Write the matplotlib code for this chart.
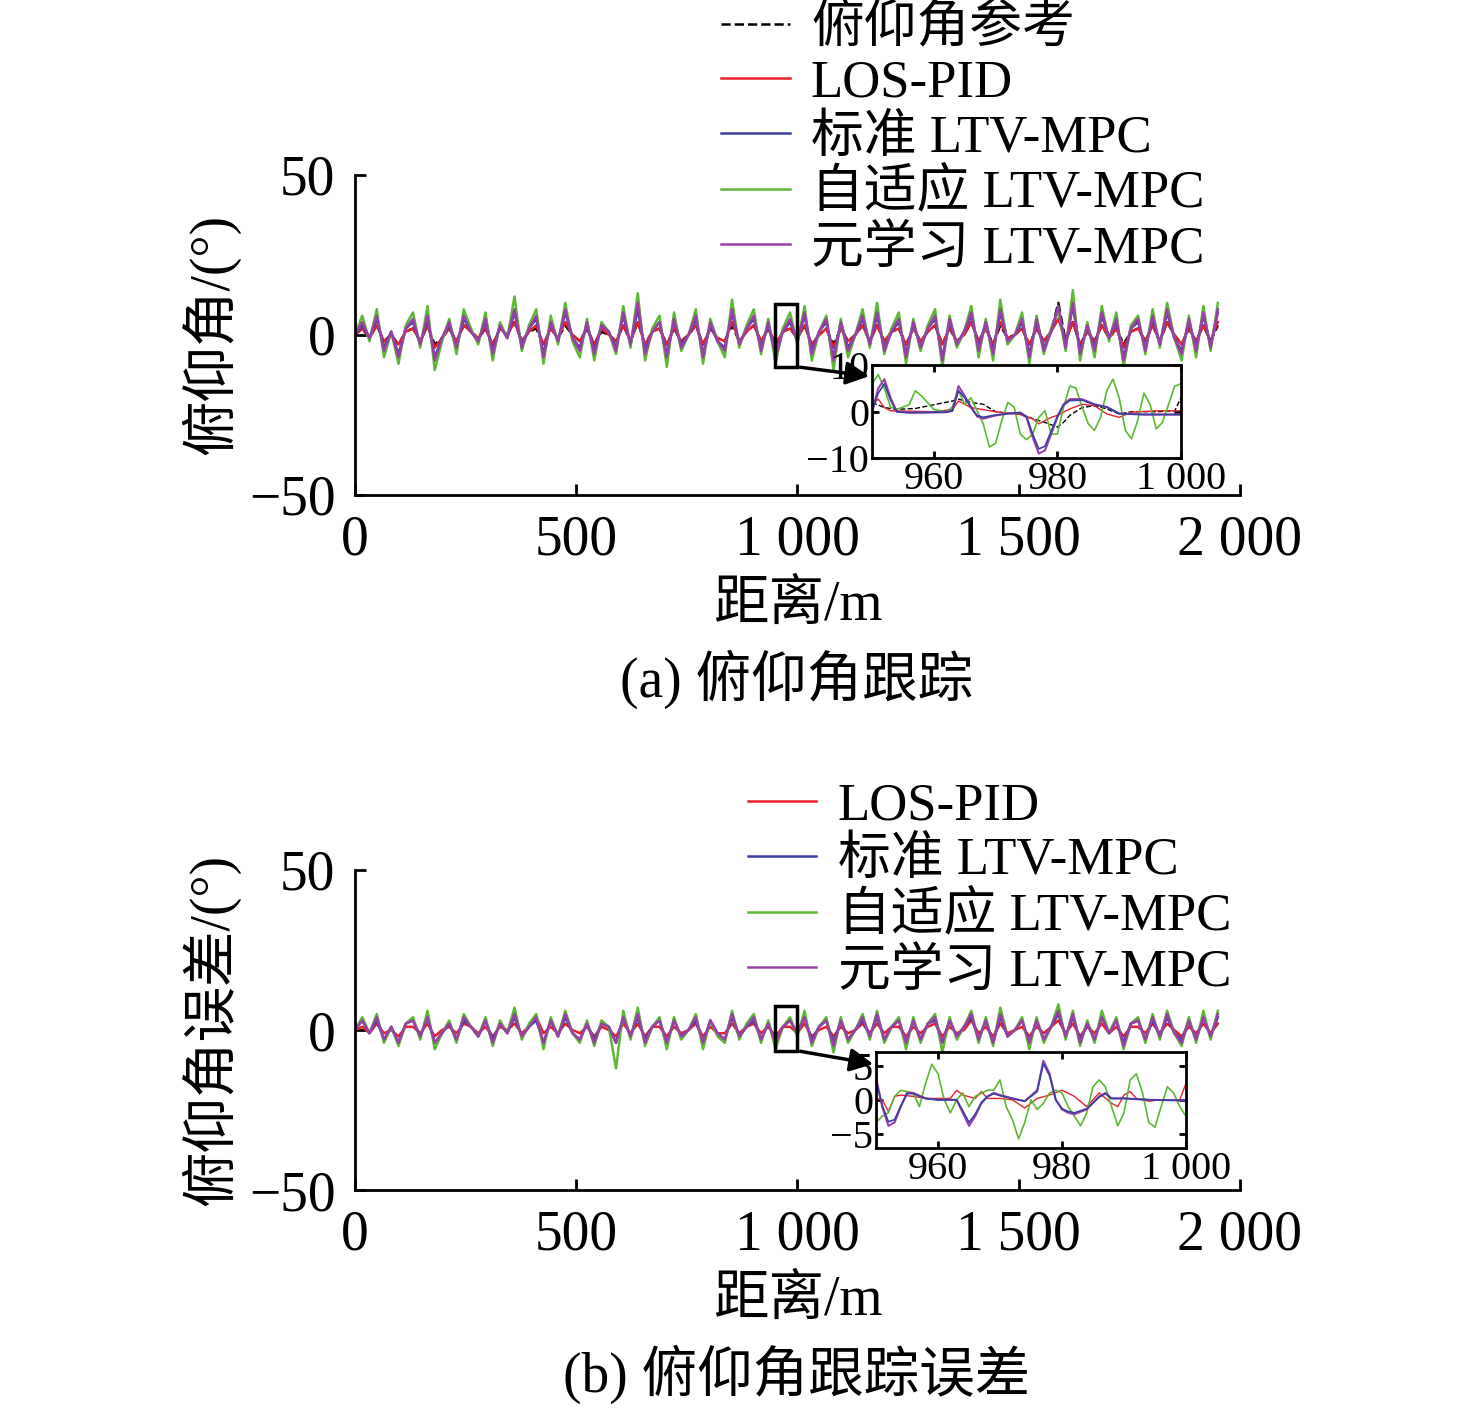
import numpy as np
import matplotlib.pyplot as plt
from matplotlib.patches import Rectangle

plt.rcParams['font.family'] = ['Liberation Serif', 'Noto Sans CJK SC']
plt.rcParams['axes.unicode_minus'] = True

# ---------- main panel data (sampled every ~16.4 m, 0..1950 m) ----------
green_a = [0, 6, -2, 8, -7, 1, -9, 3, 7, -4, 9, -11, -2, 5, -6, 8, 2, -3, 7, -8,
           4, -1, 12, -5, 3, 8, -9, 6, -3, 10, -2, -7, 5, -8, 4, 1, -6, 9, -4, 13,
           -8, 2, 6, -10, 7, -5, 0, 8, -9, 5, -2, -7, 11, -4, 3, 8, -6, 5, -9, 2,
           7, -3, 9, -8, 1, 6, -11, 5, -7, 0, 8, -4, 10, -6, 2, 7, -9, 5, -5, 3,
           8, -10, 6, -4, 1, 9, -7, 5, -8, 11, -3, 0, 7, -9, 6, -6, 2, 8, -5, 14,
           -8, 4, -7, 9, -2, 7, -10, 3, 6, -6, 8, -4, 10, -1, -8, 6, -7, 9, -5, 10]
purple_a = [0, 4, -1, 6, -5, 1, -7, 2, 5, -3, 6, -8, -1, 4, -4, 6, 1, -2, 5, -6,
            3, -1, 8, -4, 2, 6, -7, 4, -2, 8, -1, -5, 4, -6, 3, 1, -5, 7, -3, 10,
            -6, 1, 4, -7, 5, -4, 0, 6, -7, 4, -2, -5, 8, -3, 2, 6, -5, 4, -7, 1,
            5, -2, 7, -6, 1, 5, -8, 4, -5, 0, 6, -3, 7, -5, 1, 5, -7, 4, -4, 2,
            6, -8, 5, -3, 1, 7, -5, 4, -6, 8, -2, 0, 5, -7, 5, -5, 1, 9, -4, 10,
            -6, 3, -5, 7, -1, 5, -8, 2, 5, -5, 6, -3, 8, -1, -6, 5, -5, 7, -4, 8]
blue_a = [0, 3, -1, 5, -4, 1, -6, 2, 4, -3, 5, -7, -1, 3, -4, 5, 1, -2, 4, -5,
          3, -1, 7, -3, 2, 5, -6, 4, -2, 7, -1, -4, 3, -5, 3, 1, -4, 6, -3, 8,
          -5, 1, 4, -6, 4, -3, 0, 5, -6, 3, -2, -4, 7, -3, 2, 5, -4, 3, -6, 1,
          4, -2, 6, -5, 1, 4, -7, 4, -4, 0, 5, -3, 6, -4, 1, 4, -6, 4, -4, 2,
          5, -7, 4, -3, 1, 6, -4, 4, -5, 7, -2, 0, 4, -6, 4, -4, 1, 8, -3, 9,
          -5, 3, -4, 6, -1, 4, -7, 2, 4, -4, 5, -3, 7, -1, -5, 4, -4, 6, -3, 7]
red_a = [0, 2, -1, 3, -2, 0, -3, 1, 2, -2, 3, -4, -1, 2, -2, 3, 1, -1, 2, -3,
         2, 0, 4, -2, 1, 3, -3, 2, -1, 4, 0, -2, 2, -3, 2, 0, -2, 3, -2, 4,
         -3, 1, 2, -3, 2, -2, 0, 3, -3, 2, -1, -2, 4, -2, 1, 3, -2, 2, -3, 1,
         2, -1, 3, -3, 0, 2, -4, 2, -2, 0, 3, -2, 3, -2, 1, 2, -3, 2, -2, 1,
         3, -3, 2, -2, 0, 4, -2, 2, -3, 4, -1, 0, 2, -3, 2, -2, 1, 5, -2, 4,
         -3, 1, -2, 3, -1, 2, -4, 1, 2, -2, 3, -2, 4, 0, -3, 2, -2, 3, -2, 4]
ref_a = [0, 2, -1, 3, -2, 0, -3, 1, 2, -2, 3, -3, -1, 2, -2, 3, 1, -1, 2, -3,
         2, 0, 4, -2, 1, 2, -3, 2, -1, 3, 0, -2, 2, -3, 1, 0, -2, 3, -2, 4,
         -3, 1, 2, -3, 2, -2, 0, 3, -3, 2, -1, -2, 3, -2, 1, 3, -2, 2, -3, 1,
         2, -1, 3, -3, 0, 2, -3, 2, -2, 0, 3, -2, 3, -2, 1, 2, -3, 2, -2, 1,
         3, -3, 2, -2, 0, 4, -2, 2, -3, 3, -1, 0, 2, -3, 2, -2, 1, 10, -2, 4,
         -3, 1, -2, 3, -1, 2, -3, 1, 2, -2, 3, -2, 4, 0, -3, 2, -2, 3, -2, 3]

green_b = [0, 4, -1, 5, -4, 1, -5, 2, 4, -3, 6, -6, -1, 3, -4, 5, 1, -2, 4, -5,
           3, -1, 7, -3, 2, 5, -6, 4, -2, 6, -1, -4, 3, -5, 3, 1, -12, 6, -3, 7,
           -5, 1, 4, -6, 4, -3, 0, 5, -6, 3, -2, -4, 6, -3, 2, 5, -4, 3, -6, 1,
           4, -2, 6, -5, 1, 4, -7, 4, -4, 0, 5, -3, 6, -4, 1, 4, -6, 4, -4, 2,
           5, -7, 4, -3, 1, 6, -4, 4, -5, 7, -2, 0, 4, -6, 4, -4, 1, 8, -3, 6,
           -5, 3, -4, 6, -1, 4, -6, 2, 4, -4, 5, -3, 6, -1, -5, 4, -4, 6, -3, 6]
purple_b = [0, 3, -1, 4, -3, 1, -4, 2, 3, -2, 4, -4, -1, 2, -3, 4, 1, -2, 3, -4,
            2, -1, 5, -2, 1, 4, -4, 3, -2, 5, -1, -3, 2, -4, 2, 1, -4, 4, -2, 5,
            -4, 1, 3, -4, 3, -2, 0, 4, -4, 3, -1, -3, 5, -2, 1, 4, -3, 2, -4, 1,
            3, -1, 4, -4, 1, 3, -5, 3, -3, 0, 4, -2, 5, -3, 1, 3, -4, 3, -3, 2,
            4, -4, 3, -2, 1, 5, -3, 3, -4, 5, -2, 0, 3, -4, 3, -3, 1, 6, -2, 5,
            -4, 2, -3, 4, -1, 3, -5, 2, 3, -3, 4, -2, 5, -1, -4, 3, -3, 4, -2, 5]
blue_b = [0, 3, -1, 3, -3, 1, -4, 2, 3, -2, 4, -4, -1, 2, -3, 3, 1, -2, 3, -3,
          2, -1, 4, -2, 1, 3, -4, 3, -2, 4, -1, -3, 2, -3, 2, 1, -4, 4, -2, 4,
          -3, 1, 3, -4, 3, -2, 0, 3, -4, 3, -1, -3, 4, -2, 1, 3, -3, 2, -4, 1,
          3, -1, 4, -3, 1, 3, -4, 3, -3, 0, 3, -2, 4, -3, 1, 3, -4, 3, -3, 2,
          3, -4, 3, -2, 1, 4, -3, 3, -4, 4, -2, 0, 3, -4, 3, -3, 1, 5, -2, 4,
          -3, 2, -3, 4, -1, 3, -4, 2, 3, -3, 3, -2, 4, -1, -3, 3, -3, 4, -2, 4]
red_b = [0, 1, -1, 2, -1, 0, -2, 1, 1, -1, 2, -2, 0, 1, -1, 2, 1, -1, 1, -2,
         1, 0, 2, -1, 1, 4, -1, 1, -1, 2, 0, -1, 1, -2, 1, 0, -2, 2, -1, 2,
         -2, 1, 1, -2, 1, -1, 0, 2, -2, 1, -1, -1, 2, -1, 1, 2, -1, 1, -2, 1,
         1, -1, 2, -2, 0, 1, -2, 1, -1, 0, 2, -1, 2, -1, 1, 1, -2, 1, -1, 1,
         2, -2, 1, -1, 0, 3, -1, 1, -2, 2, -1, 0, 1, -2, 1, -1, 1, 3, -1, 2,
         -2, 1, -1, 2, -1, 1, -2, 1, 1, -1, 2, -1, 2, 0, -2, 1, -1, 2, -1, 2]
x_main = np.linspace(0, 1950, len(green_a))

# ---------- inset data (950..1000 m) ----------
ia_green_x = [950, 951, 952, 953, 954, 956, 957, 958, 960, 962, 963, 964, 965, 966, 968, 969, 970, 971, 972, 973, 974, 975, 976, 977, 978, 979, 980, 981, 982, 983, 984, 985, 986, 987, 988, 989, 990, 991, 992, 993, 994, 995, 996, 997, 998, 999, 1000]
ia_green_y = [6, 8, 5, 1, 0.5, 1.5, 4.5, 3.4, 0.5, 0, 1, 4.5, 1.6, 3, -2.6, -7.6, -6.8, -1.9, 2, 1, -4.8, -6, -4.8, -1.2, 0.2, -4.8, -4.8, 1, 5.5, 5.1, 1, -2.6, -4, -1.2, 4.5, 7, 3, -4, -5.8, -1.9, 4, 1.6, -3.7, -2.3, 1.6, 5.5, 6]
ia_purple_x = [950, 951, 952, 953, 954, 956, 962, 963, 964, 965, 966, 967, 968, 970, 972, 974, 975, 976, 977, 978, 979, 980, 981, 982, 984, 986, 988, 990, 994, 1000]
ia_purple_y = [0, 5, 7, 3, 0, -0.2, -0.1, 0.2, 5.5, 3.4, 1, -1, -1.5, -0.8, -0.4, -0.2, -1.2, -5.5, -9, -8.3, -4.8, -1.2, 1.6, 2.7, 2.7, 1.6, 1, -0.4, -0.6, -0.6]
ia_blue_y = [0, 4, 6, 2.5, 0, -0.2, -0.1, 0.2, 4.5, 3, 1, -0.8, -1.2, -0.7, -0.4, -0.2, -1, -4.8, -8, -7.4, -4.2, -1, 1.4, 2.4, 2.5, 1.5, 1, -0.4, -0.6, -0.6]
ia_red_x = [950, 951, 952, 953, 960, 963, 964, 966, 970, 974, 976, 977, 978, 979, 980, 982, 984, 986, 988, 990, 992, 996, 1000]
ia_red_y = [1.6, 2.7, 0.9, 0.2, 0, 0.5, 2.3, 0.9, 0, -0.6, -1.5, -2.6, -1.9, -1.2, -0.8, 0.6, 1.6, 1.3, -0.5, -1.2, -0.1, 0.2, 0.2]
ia_ref_x = [950, 952, 954, 957, 963, 964, 966, 968, 970, 974, 976, 978, 980, 981, 982, 984, 986, 988, 990, 992, 996, 999, 1000]
ia_ref_y = [2, 0.9, 0.5, 0.7, 2.3, 2.7, 2, 1.6, 0, -0.6, -1.5, -2.3, -3.3, -2.3, -0.8, 0.9, 1.3, 0.6, -0.5, 0, 0, 0.2, 3]

ib_green_x = [950, 951, 952, 953, 954, 956, 957, 958, 959, 960, 961, 962, 963, 964, 965, 966, 968, 969, 970, 971, 972, 973, 974, 975, 976, 977, 978, 979, 980, 981, 982, 983, 984, 985, 986, 987, 988, 989, 990, 991, 992, 993, 994, 995, 996, 997, 998, 999, 1000]
ib_green_y = [-3.3, -2.4, -1.9, 0.5, 1.4, 1, -1, 2.4, 5.2, 3.8, 0, -1.9, 0, 1, -1, 0.5, 1.4, 1.4, 2.9, -1, -2.9, -5.7, -3.3, 0, -1.4, -0.5, 1, 1.4, 1, -1, -2.4, -3.8, -1.9, 1.9, 2.9, 1.9, -1, -3.8, -1.9, 2.9, 3.8, 1, -3.3, -4, -1, 1.9, 1, -1, -2.4]
ib_purple_x = [950, 951, 952, 953, 954, 955, 956, 958, 960, 963, 964, 965, 966, 967, 968, 969, 970, 972, 974, 976, 977, 978, 979, 980, 981, 982, 984, 986, 987, 988, 990, 994, 1000]
ib_purple_y = [3.3, -1, -3.8, -3.3, -1, 1, 1, 0.2, 0, 0, -1.9, -3.8, -2.4, -0.5, 0.5, 1, 0.7, 0.2, -0.2, 1.4, 5.7, 3.8, 0, -1.4, -1.9, -2.1, -1.4, 0.5, 1, 0.2, 0.2, 0, -0.1]
ib_blue_y = [2.8, -0.8, -3.2, -2.9, -0.9, 0.9, 0.9, 0.2, 0, 0, -1.6, -3.3, -2.1, -0.4, 0.5, 0.9, 0.6, 0.2, -0.2, 1.2, 5.3, 3.5, 0, -1.3, -1.7, -1.9, -1.3, 0.4, 0.9, 0.2, 0.2, 0, -0.1]
ib_red_x = [950, 951, 952, 953, 954, 956, 958, 962, 963, 964, 966, 967, 968, 970, 972, 974, 976, 978, 980, 982, 984, 985, 986, 988, 989, 990, 991, 992, 994, 996, 999, 1000]
ib_red_y = [0.2, 0, -1.7, 0.5, 0.7, 0.5, 0.2, 0.2, 1.4, 0.7, 0.2, 1.2, 0.2, 0.2, 0, -1.2, 0.2, 0.7, 1.4, 0.5, -1, 0, 1, -0.5, -1, 0.7, 1.2, 0.2, -0.2, 0, 0, 2.4]

labels_a = ['俯仰角参考', 'LOS-PID', '标准 LTV-MPC', '自适应 LTV-MPC', '元学习 LTV-MPC']
C_REF, C_RED, C_BLUE, C_GREEN, C_PURPLE = 'black', '#e8202a', '#3b3fa0', '#5cb832', '#9a3fa8'
xticks_main = [0, 500, 1000, 1500, 2000]
xticklabels_main = ['0', '500', '1 000', '1 500', '2 000']
FS = 40

fig = plt.figure(figsize=(14.76, 14.1), dpi=100)

def style_main(ax, ylabel):
    ax.set_xlim(0, 2000)
    ax.set_ylim(-50, 50)
    ax.set_xticks(xticks_main)
    ax.set_xticklabels(xticklabels_main)
    ax.set_yticks([-50, 0, 50])
    ax.set_yticklabels(['\u221250', '0', '50'])
    for s in ['top', 'right']:
        ax.spines[s].set_visible(False)
    for s in ['left', 'bottom']:
        ax.spines[s].set_linewidth(2)
    ax.tick_params(direction='in', length=8, width=2, labelsize=FS, pad=14)
    ax.set_xlabel('距离/m', fontsize=FS, labelpad=10)
    ax.set_ylabel(ylabel, fontsize=FS, labelpad=6)

def style_inset(ax, ylim, yticks, yticklabels):
    ax.set_xlim(950, 1000)
    ax.set_ylim(*ylim)
    ax.set_xticks([960, 980, 1000])
    ax.set_xticklabels(['960', '980', '1 000'])
    ax.set_yticks(yticks)
    ax.set_yticklabels(yticklabels)
    for s in ax.spines.values():
        s.set_linewidth(2)
    ax.tick_params(direction='in', length=5, width=2, labelsize=29, pad=2,
                   top=True, right=True)

legkw = dict(loc='upper left', frameon=False, fontsize=38, handlelength=1.3,
             handletextpad=0.4, labelspacing=0.12, borderaxespad=0)

# ---------- panel a ----------
ax1 = fig.add_axes([0.2405, 0.649, 0.5996, 0.227])
ax1.plot(x_main, ref_a, '--', color=C_REF, lw=1.8, label=labels_a[0])
ax1.plot(x_main, red_a, color=C_RED, lw=1.8, label=labels_a[1])
ax1.plot(x_main, blue_a, color=C_BLUE, lw=1.8, label=labels_a[2])
ax1.plot(x_main, green_a, color=C_GREEN, lw=1.8, label=labels_a[3])
ax1.plot(x_main, purple_a, color=C_PURPLE, lw=1.8, label=labels_a[4])
style_main(ax1, '俯仰角/(°)')
ax1.add_patch(Rectangle((950, -10), 50, 19.5, fill=False, lw=2.5, ec='black', zorder=5))
ax1.legend(bbox_to_anchor=(0.39, 1.6), **legkw)
fig.text(0.54, 0.518, '(a) 俯仰角跟踪', fontsize=FS, ha='center', va='center')

in1 = fig.add_axes([0.5908, 0.675, 0.2093, 0.066])
in1.plot(ia_ref_x, ia_ref_y, '--', color=C_REF, lw=1)
in1.plot(ia_red_x, ia_red_y, color=C_RED, lw=1)
in1.plot(ia_green_x, ia_green_y, color=C_GREEN, lw=1.2)
in1.plot(ia_purple_x, ia_purple_y, color=C_PURPLE, lw=1.5)
in1.plot(ia_purple_x, ia_blue_y, color=C_BLUE, lw=1.2)
style_inset(in1, (-10, 10), [-10, 0, 10], ['\u221210', '0', '10'])
ax1.annotate('', xy=(0.5908, 0.733), xycoords='figure fraction',
             xytext=(1000, -10), textcoords='data',
             arrowprops=dict(arrowstyle='-|>', color='black', lw=2.5, mutation_scale=35))

# ---------- panel b ----------
ax2 = fig.add_axes([0.2405, 0.156, 0.5996, 0.227])
ax2.plot(x_main, red_b, color=C_RED, lw=1.8, label=labels_a[1])
ax2.plot(x_main, blue_b, color=C_BLUE, lw=1.8, label=labels_a[2])
ax2.plot(x_main, green_b, color=C_GREEN, lw=1.8, label=labels_a[3])
ax2.plot(x_main, purple_b, color=C_PURPLE, lw=1.8, label=labels_a[4])
style_main(ax2, '俯仰角误差/(°)')
ax2.add_patch(Rectangle((950, -6.5), 50, 14, fill=False, lw=2.5, ec='black', zorder=5))
ax2.legend(bbox_to_anchor=(0.42, 1.34), **legkw)
fig.text(0.54, 0.025, '(b) 俯仰角跟踪误差', fontsize=FS, ha='center', va='center')

in2 = fig.add_axes([0.5935, 0.186, 0.21, 0.068])
in2.plot(ib_red_x, ib_red_y, color=C_RED, lw=1)
in2.plot(ib_green_x, ib_green_y, color=C_GREEN, lw=1.2)
in2.plot(ib_purple_x, ib_purple_y, color=C_PURPLE, lw=1.5)
in2.plot(ib_purple_x, ib_blue_y, color=C_BLUE, lw=1.2)
style_inset(in2, (-7, 7), [-5, 0, 5], ['\u22125', '0', '5'])
ax2.annotate('', xy=(0.5935, 0.245), xycoords='figure fraction',
             xytext=(1000, -6.5), textcoords='data',
             arrowprops=dict(arrowstyle='-|>', color='black', lw=2.5, mutation_scale=35))

fig.savefig('out.png', dpi=100)
